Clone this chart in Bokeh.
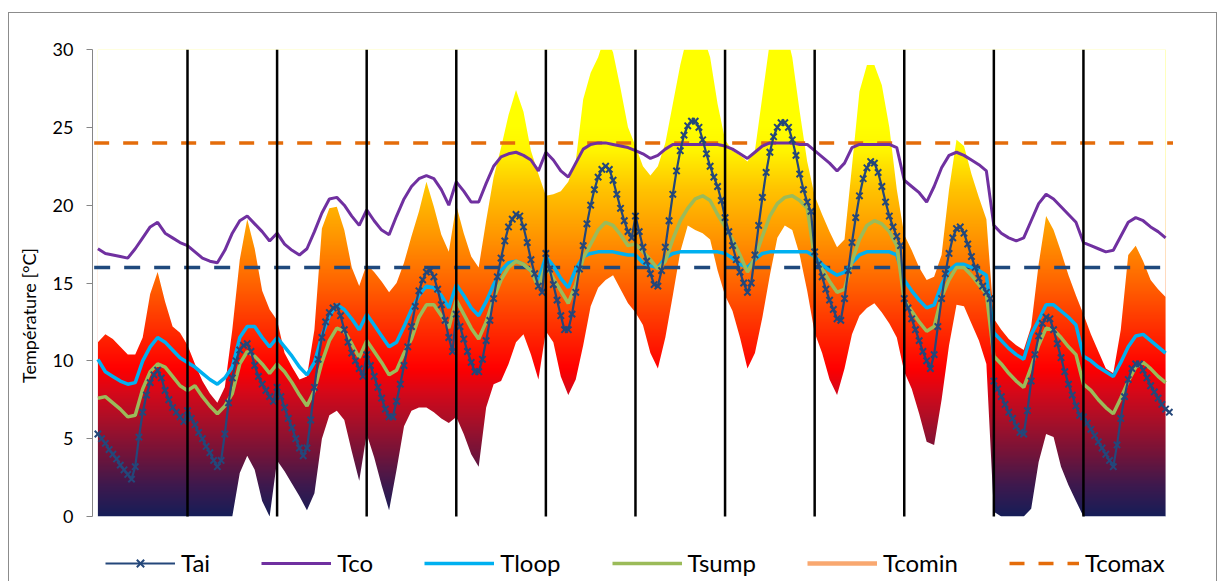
import numpy as np
from bokeh.plotting import figure
from bokeh.models import Legend, LegendItem, Range1d, FixedTicker
from bokeh.layouts import column
from bokeh.embed import file_html
from bokeh.resources import INLINE

N_DAYS = 12
HOURS_PER_DAY = 24

# Tai: hourly values, one list per representative day
tai_by_day = [
    [5.3, 5.0, 4.7, 4.3, 4.0, 3.7, 3.3, 3.0, 2.7, 2.4, 3.2, 5.1, 6.7, 7.8, 8.6, 9.1, 9.4, 8.9, 8.1, 7.5, 7.0, 6.7, 6.4, 6.1],
    [6.8, 6.3, 5.9, 5.4, 5.0, 4.5, 4.1, 3.6, 3.2, 3.6, 5.3, 7.3, 8.9, 10.0, 10.7, 11.0, 11.1, 10.6, 9.7, 9.0, 8.5, 8.1, 7.7, 7.4],
    [8.3, 7.7, 7.0, 6.3, 5.7, 5.0, 4.4, 3.9, 4.4, 6.2, 8.3, 10.1, 11.5, 12.5, 13.1, 13.4, 13.5, 12.9, 12.0, 11.2, 10.5, 10.0, 9.5, 9.0],
    [10.4, 9.7, 9.0, 8.3, 7.6, 6.9, 6.4, 6.4, 7.4, 8.5, 9.7, 10.9, 12.2, 13.5, 14.5, 15.2, 15.7, 15.8, 15.4, 14.6, 13.6, 12.6, 11.5, 10.6],
    [13.0, 12.2, 11.4, 10.6, 9.9, 9.3, 9.3, 10.1, 11.3, 12.6, 14.0, 15.4, 16.6, 17.7, 18.6, 19.1, 19.4, 19.3, 18.6, 17.6, 16.5, 15.6, 14.8, 14.4],
    [16.9, 15.9, 14.9, 13.9, 12.9, 12.0, 12.0, 13.0, 14.4, 15.9, 17.4, 18.8, 20.0, 21.0, 21.8, 22.3, 22.5, 22.3, 21.6, 20.7, 19.8, 19.0, 18.3, 17.9],
    [19.3, 18.3, 17.3, 16.4, 15.6, 14.9, 14.8, 15.8, 17.3, 19.0, 20.7, 22.2, 23.5, 24.5, 25.1, 25.4, 25.4, 25.0, 24.2, 23.3, 22.5, 21.8, 21.2, 20.3],
    [19.2, 18.3, 17.4, 16.5, 15.7, 15.0, 14.4, 15.0, 16.8, 18.7, 20.5, 22.1, 23.4, 24.4, 25.0, 25.3, 25.3, 25.0, 24.2, 23.2, 22.0, 21.0, 20.2, 19.6],
    [17.0, 16.2, 15.4, 14.6, 13.9, 13.3, 12.7, 12.6, 14.0, 15.8, 17.6, 19.2, 20.6, 21.7, 22.4, 22.8, 22.7, 22.1, 21.2, 20.2, 19.3, 18.6, 18.0, 17.4],
    [14.0, 13.4, 12.7, 12.0, 11.3, 10.6, 10.0, 9.5, 10.4, 12.2, 14.0, 15.6, 16.9, 17.9, 18.5, 18.6, 18.2, 17.5, 16.7, 16.0, 15.3, 14.8, 14.4, 14.0],
    [8.7, 8.2, 7.7, 7.2, 6.7, 6.3, 5.8, 5.4, 5.3, 6.8, 8.7, 10.4, 11.6, 12.4, 12.8, 12.7, 12.0, 11.1, 10.2, 9.3, 8.5, 7.8, 7.1, 6.5],
    [6.4, 6.0, 5.6, 5.2, 4.8, 4.4, 4.0, 3.6, 3.2, 4.6, 6.3, 7.7, 8.8, 9.5, 9.8, 9.8, 9.4, 8.9, 8.4, 8.0, 7.6, 7.2, 6.9, 6.7],
]

# Other series: values every 2 hours (12 per day)
tco_by_day = [
    [17.2, 16.9, 16.8, 16.7, 16.6, 17.2, 17.9, 18.6, 18.9, 18.2, 17.9, 17.6],
    [17.4, 17.0, 16.6, 16.4, 16.3, 17.1, 18.2, 19.0, 19.3, 18.8, 18.3, 17.7],
    [18.2, 17.5, 17.1, 16.8, 17.2, 18.3, 19.5, 20.4, 20.5, 20.0, 19.3, 18.7],
    [19.7, 19.0, 18.4, 18.1, 19.3, 20.4, 21.2, 21.7, 21.9, 21.7, 21.0, 20.0],
    [21.5, 20.9, 20.2, 20.2, 21.4, 22.5, 23.1, 23.3, 23.4, 23.2, 22.9, 22.2],
    [23.4, 22.9, 22.2, 21.8, 22.7, 23.6, 23.9, 24.0, 24.0, 23.9, 23.8, 23.7],
    [23.5, 23.3, 23.0, 23.2, 23.6, 23.9, 23.9, 23.9, 23.9, 23.9, 23.9, 23.9],
    [23.8, 23.6, 23.3, 23.0, 23.4, 23.8, 24.0, 24.0, 24.0, 24.0, 23.9, 23.9],
    [23.5, 23.1, 22.7, 22.2, 22.7, 23.7, 23.9, 23.9, 23.9, 23.9, 23.9, 23.7],
    [21.6, 21.2, 20.8, 20.2, 21.2, 22.4, 23.2, 23.4, 23.2, 22.9, 22.6, 22.2],
    [18.7, 18.2, 17.9, 17.7, 17.9, 19.0, 20.1, 20.7, 20.4, 19.9, 19.4, 18.9],
    [17.6, 17.4, 17.2, 17.0, 17.1, 18.0, 18.9, 19.2, 19.0, 18.6, 18.3, 17.9],
]

tloop_by_day = [
    [10.1, 9.3, 9.0, 8.7, 8.5, 8.6, 10.0, 10.9, 11.5, 11.2, 10.7, 10.2],
    [9.9, 9.6, 9.2, 8.8, 8.5, 8.9, 9.6, 11.5, 12.2, 12.2, 11.5, 10.9],
    [11.5, 10.9, 10.3, 9.6, 9.1, 9.9, 11.6, 12.9, 13.6, 13.3, 12.7, 12.0],
    [13.0, 12.3, 11.6, 10.9, 11.2, 12.2, 13.3, 14.2, 14.8, 14.7, 14.2, 13.4],
    [14.9, 14.2, 13.4, 12.9, 13.8, 14.9, 15.8, 16.3, 16.4, 16.2, 15.8, 15.2],
    [16.7, 16.1, 15.3, 14.7, 15.9, 16.7, 16.9, 17.0, 17.0, 17.0, 16.9, 16.8],
    [16.8, 16.3, 16.1, 16.0, 16.6, 16.9, 17.0, 17.0, 17.0, 17.0, 17.0, 17.0],
    [16.9, 16.6, 16.2, 16.0, 16.5, 16.9, 17.0, 17.0, 17.0, 17.0, 17.0, 17.0],
    [16.7, 16.2, 15.8, 15.5, 15.7, 16.3, 16.8, 17.0, 17.0, 17.0, 17.0, 16.8],
    [15.2, 14.5, 13.9, 13.4, 13.6, 14.9, 15.8, 16.2, 16.2, 16.0, 15.8, 15.5],
    [11.8, 11.3, 10.8, 10.4, 10.1, 11.7, 12.6, 13.6, 13.6, 13.2, 12.8, 12.3],
    [10.3, 10.0, 9.6, 9.3, 9.0, 9.9, 10.9, 11.6, 11.7, 11.3, 10.9, 10.5],
]

tsump_by_day = [
    [7.6, 7.7, 7.3, 6.9, 6.4, 6.5, 8.2, 9.3, 9.8, 9.6, 9.0, 8.4],
    [8.1, 8.4, 7.7, 7.1, 6.6, 7.1, 7.9, 9.8, 10.6, 10.3, 9.8, 9.2],
    [9.8, 9.3, 8.6, 7.8, 7.1, 8.1, 9.9, 11.3, 12.1, 11.9, 11.1, 10.2],
    [11.3, 10.6, 9.9, 9.1, 9.4, 10.5, 11.4, 12.8, 13.6, 13.6, 12.9, 12.1],
    [13.9, 13.0, 12.1, 11.4, 12.5, 14.0, 15.2, 16.0, 16.4, 16.2, 15.8, 14.7],
    [16.2, 15.3, 14.5, 13.7, 14.9, 16.6, 17.5, 18.4, 18.9, 18.7, 18.1, 17.4],
    [17.5, 17.0, 16.5, 15.9, 16.4, 17.8, 19.0, 19.8, 20.4, 20.6, 20.3, 19.4],
    [18.6, 17.8, 16.8, 15.7, 16.6, 18.0, 19.3, 20.1, 20.5, 20.6, 20.3, 19.8],
    [16.6, 15.9, 15.1, 14.4, 14.6, 16.4, 17.8, 18.7, 19.0, 18.8, 18.3, 17.4],
    [13.9, 13.2, 12.5, 11.9, 12.2, 14.1, 15.2, 16.0, 16.0, 15.5, 14.9, 14.3],
    [10.3, 9.8, 9.2, 8.7, 8.3, 9.6, 11.0, 12.1, 12.0, 11.5, 10.9, 10.4],
    [8.5, 8.1, 7.5, 7.0, 6.6, 7.6, 8.7, 9.6, 9.9, 9.5, 9.0, 8.6],
]

# Temperature band (upper / lower envelope), every 2 hours
band_upper_by_day = [
    [11.2, 11.7, 11.4, 10.9, 10.4, 10.4, 11.5, 14.3, 15.7, 13.8, 12.2, 11.8],
    [11.0, 9.8, 8.7, 7.9, 7.3, 8.3, 12.0, 16.5, 19.1, 17.2, 14.5, 13.3],
    [12.6, 10.5, 9.6, 8.8, 9.0, 12.0, 18.5, 19.8, 19.9, 18.4, 16.0, 14.8],
    [16.2, 15.7, 15.1, 14.4, 15.0, 16.3, 18.0, 19.6, 21.5, 19.9, 18.1, 17.0],
    [20.0, 18.2, 16.7, 16.0, 19.0, 21.8, 23.7, 25.8, 27.4, 26.0, 23.5, 22.0],
    [20.6, 20.7, 20.9, 21.5, 22.8, 26.8, 28.5, 29.5, 31.0, 29.8, 27.5, 25.0],
    [23.8, 22.5, 21.9, 22.5, 24.0, 26.5, 29.0, 31.0, 32.0, 31.0, 29.5, 26.5],
    [24.2, 23.5, 23.2, 22.8, 23.5, 27.0, 30.5, 31.5, 31.5, 29.5, 26.0, 22.8],
    [20.6, 19.4, 18.3, 17.3, 17.8, 22.5, 27.3, 29.0, 29.0, 27.7, 25.0, 21.0],
    [18.1, 17.1, 16.0, 15.2, 15.4, 16.8, 21.0, 24.2, 23.8, 22.0, 20.5, 19.1],
    [12.7, 12.0, 11.4, 11.0, 10.7, 12.2, 16.2, 19.3, 18.4, 17.0, 15.5, 14.2],
    [13.0, 11.7, 10.6, 9.5, 9.2, 12.0, 16.8, 17.4, 16.4, 15.2, 14.6, 14.1],
]

band_lower_by_day = [
    [0.0, 0.0, 0.0, 0.0, 0.0, 0.0, 0.0, 0.0, 0.0, 0.0, 0.0, 0.0],
    [0.0, 0.0, 0.0, 0.0, 0.0, 0.0, 0.0, 2.8, 3.9, 3.0, 1.0, 0.0],
    [3.6, 2.9, 2.1, 1.3, 0.4, 1.5, 5.0, 6.5, 6.8, 6.2, 4.2, 2.3],
    [5.3, 3.8, 2.0, 0.4, 3.0, 5.8, 6.8, 7.0, 7.0, 6.7, 6.3, 6.0],
    [6.4, 5.3, 4.0, 3.2, 7.0, 8.5, 8.7, 9.8, 11.2, 11.7, 10.4, 8.8],
    [11.9, 11.2, 9.0, 7.8, 8.8, 11.0, 13.5, 14.7, 15.2, 15.5, 14.6, 13.7],
    [13.1, 12.3, 10.5, 9.5, 11.5, 14.2, 17.0, 18.7, 18.4, 18.2, 17.8, 15.8],
    [14.2, 13.2, 11.5, 9.5, 10.5, 12.8, 15.5, 17.9, 18.7, 18.4, 16.8, 14.5],
    [11.8, 10.5, 8.8, 7.8, 9.5, 11.7, 12.9, 13.4, 13.7, 13.1, 12.4, 11.5],
    [9.3, 8.2, 6.6, 4.8, 4.6, 7.5, 11.0, 13.6, 13.5, 12.4, 11.3, 9.8],
    [0.3, 0.0, 0.0, 0.0, 0.0, 0.5, 3.5, 5.3, 5.1, 3.2, 2.0, 1.0],
    [0.0, 0.0, 0.0, 0.0, 0.0, 0.0, 0.0, 0.0, 0.0, 0.0, 0.0, 0.0],
]

t_threshold = 16.0          # blue dashed reference
tcomax = 24.0               # orange dashed
tcomin = [float("nan")]     # not visible in the chart (legend only)

y_ticks = [0, 5, 10, 15, 20, 25, 30]
Y_MIN, Y_MAX = 0, 30

# ---------------------------------------------------------------
hours = np.arange(N_DAYS * HOURS_PER_DAY)
hours2 = np.arange(0, N_DAYS * HOURS_PER_DAY, 2)
tai = np.concatenate(tai_by_day)
tco = np.concatenate(tco_by_day)
tloop = np.concatenate(tloop_by_day)
tsump = np.concatenate(tsump_by_day)
band_upper = np.concatenate(band_upper_by_day)
band_lower = np.concatenate(band_lower_by_day)
day_bounds = [HOURS_PER_DAY * k for k in range(1, N_DAYS)]

# frame extends below 0 so that the legend can sit inside it (axis bounded to 0..30)
p = figure(width=1207, height=568, output_backend="svg", toolbar_location=None,
           title=None, x_range=Range1d(-1.447, 290.0), y_range=Range1d(-4.175, Y_MAX),
           x_axis_location=None, min_border_left=83, min_border_right=36,
           min_border_top=36, min_border_bottom=0, outline_line_color=None,
           background_fill_color="white", border_fill_color="white")
p.xgrid.visible = False
p.ygrid.visible = False

# gradient image for the band
N = 600
yy = np.linspace(Y_MIN, Y_MAX, N)
stops_v = [0, 2, 4, 6, 8, 9.5, 12, 15, 18, 21, 23.5, 25, 30]
stops_r = [22, 62, 115, 165, 215, 255, 255, 255, 255, 255, 255, 255, 255]
stops_g = [30, 25, 20, 16, 8, 0, 45, 100, 150, 195, 245, 255, 255]
stops_b = [88, 78, 58, 42, 25, 0, 0, 0, 0, 0, 0, 0, 0]
img = np.empty((N, 1), dtype=np.uint32)
view = img.view(dtype=np.uint8).reshape((N, 1, 4))
view[:, 0, 0] = np.interp(yy, stops_v, stops_r).astype(np.uint8)
view[:, 0, 1] = np.interp(yy, stops_v, stops_g).astype(np.uint8)
view[:, 0, 2] = np.interp(yy, stops_v, stops_b).astype(np.uint8)
view[:, 0, 3] = 255
p.image_rgba(image=[img], x=hours2[0], y=Y_MIN, dw=hours2[-1] - hours2[0], dh=Y_MAX - Y_MIN)

# white masks outside the band
p.varea(x=hours2, y1=band_upper, y2=Y_MAX + 10, fill_color="white")
p.varea(x=hours2, y1=Y_MIN - 10, y2=band_lower, fill_color="white")

xs_full = [hours[0] - 1, hours[-1] + 1]
r_tcomax = p.line(xs_full, [tcomax, tcomax], line_color="#E46C0A", line_width=3.5, line_dash="15 14")
p.line(xs_full, [t_threshold, t_threshold], line_color="#1F497D", line_width=3.5, line_dash="16 14")

r_tco = p.line(hours2, tco, line_color="#7030A0", line_width=3)
r_tloop = p.line(hours2, tloop, line_color="#00B0F0", line_width=3.5)
r_tsump = p.line(hours2, tsump, line_color="#9BBB59", line_width=3.5)
r_tcomin = p.line(hours[:len(tcomin)], tcomin, line_color="#F9A870", line_width=4.5)
r_tai_l = p.line(hours, tai, line_color="#24477A", line_width=2.2)
r_tai_m = p.scatter(hours, tai, marker="x", size=9, line_color="#24477A", line_width=2)

p.segment(x0=day_bounds, y0=Y_MIN, x1=day_bounds, y1=Y_MAX, line_color="black", line_width=2.5)

ax = p.yaxis[0]
ax.bounds = (Y_MIN, Y_MAX)
ax.ticker = FixedTicker(ticks=y_ticks)
ax.axis_label = "Température [°C]"
ax.axis_label_text_font = "Lato"
ax.axis_label_text_font_size = "18px"
ax.axis_label_text_font_style = "normal"
ax.axis_label_text_color = "black"
ax.axis_label_standoff = 10
ax.major_label_text_font = "Lato"
ax.major_label_text_font_size = "18px"
ax.major_label_text_color = "black"
ax.major_label_standoff = 13
ax.axis_line_color = "#868686"
ax.major_tick_line_color = "#868686"
ax.major_tick_out = 6
ax.major_tick_in = 0
ax.minor_tick_line_color = None

legend = Legend(items=[
    LegendItem(label="Tai", renderers=[r_tai_l, r_tai_m]),
    LegendItem(label="Tco", renderers=[r_tco]),
    LegendItem(label="Tloop", renderers=[r_tloop]),
    LegendItem(label="Tsump", renderers=[r_tsump]),
    LegendItem(label="Tcomin", renderers=[r_tcomin]),
    LegendItem(label="Tcomax", renderers=[r_tcomax]),
], orientation="horizontal", location=(13, 4), glyph_width=70, glyph_height=26,
   label_height=26, label_standoff=6, spacing=51, padding=0, margin=0,
   border_line_color=None, background_fill_alpha=0,
   label_text_font="Lato", label_text_font_size="24px", label_text_color="black")
p.add_layout(legend, "center")

layout = column(p, styles={"margin-left": "8px", "margin-top": "12px",
                           "border-top": "1px solid #8c8c8c", "border-left": "1px solid #8c8c8c",
                           "border-right": "1px solid #8c8c8c"})

open("out.html", "w").write(file_html(layout, INLINE))
